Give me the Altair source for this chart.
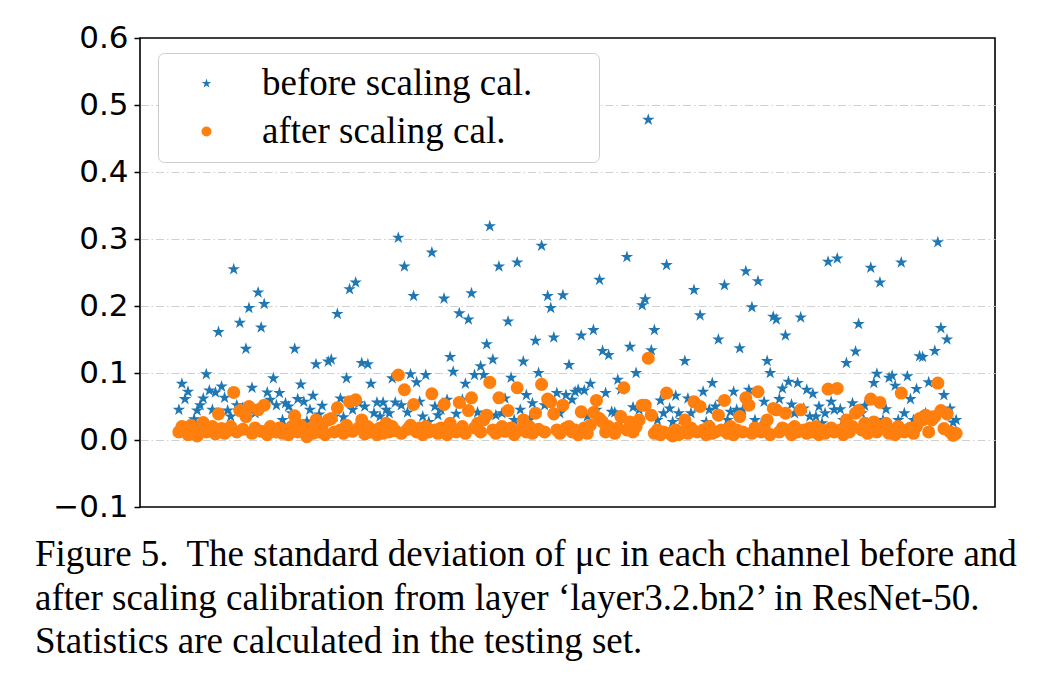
import altair as alt
import pandas as pd

# ---- data (one value per channel, 256 channels) ----
before = [
    0.045, 0.084, 0.061, 0.072, 0.025, 0.031, 0.044, 0.052, 0.062, 0.098, 0.074, 0.045, 0.071, 0.161, 0.080, 0.063,
    0.044, 0.035, 0.255, 0.052, 0.175, 0.048, 0.136, 0.197, 0.078, 0.040, 0.220, 0.168, 0.203, 0.071, 0.060, 0.092,
    0.052, 0.070, 0.030, 0.055, 0.050, 0.040, 0.136, 0.061, 0.083, 0.057, 0.028, 0.045, 0.066, 0.113, 0.038, 0.051,
    0.030, 0.117, 0.120, 0.035, 0.188, 0.062, 0.034, 0.092, 0.225, 0.045, 0.235, 0.055, 0.115, 0.050, 0.113, 0.084,
    0.040, 0.056, 0.035, 0.056, 0.045, 0.040, 0.092, 0.056, 0.302, 0.052, 0.259, 0.041, 0.098, 0.215, 0.086, 0.057,
    0.035, 0.097, 0.027, 0.280, 0.050, 0.037, 0.045, 0.211, 0.060, 0.124, 0.102, 0.039, 0.189, 0.060, 0.084, 0.180,
    0.219, 0.097, 0.041, 0.110, 0.097, 0.143, 0.319, 0.120, 0.037, 0.259, 0.040, 0.062, 0.177, 0.093, 0.030, 0.265,
    0.045, 0.117, 0.067, 0.030, 0.055, 0.148, 0.100, 0.290, 0.052, 0.215, 0.197, 0.153, 0.070, 0.040, 0.216, 0.067,
    0.112, 0.060, 0.072, 0.075, 0.156, 0.074, 0.035, 0.084, 0.164, 0.045, 0.239, 0.133, 0.070, 0.127, 0.042, 0.041,
    0.090, 0.075, 0.030, 0.273, 0.139, 0.049, 0.100, 0.045, 0.201, 0.210, 0.478, 0.134, 0.164, 0.030, 0.059, 0.040,
    0.261, 0.047, 0.027, 0.066, 0.040, 0.030, 0.118, 0.062, 0.040, 0.224, 0.050, 0.186, 0.072, 0.027, 0.045, 0.085,
    0.050, 0.150, 0.057, 0.231, 0.030, 0.042, 0.072, 0.045, 0.137, 0.045, 0.252, 0.075, 0.198, 0.030, 0.237, 0.022,
    0.057, 0.118, 0.100, 0.184, 0.180, 0.061, 0.077, 0.156, 0.087, 0.053, 0.040, 0.085, 0.183, 0.047, 0.075, 0.035,
    0.069, 0.035, 0.050, 0.025, 0.040, 0.266, 0.057, 0.045, 0.271, 0.046, 0.030, 0.115, 0.025, 0.055, 0.132, 0.173,
    0.040, 0.051, 0.025, 0.257, 0.085, 0.099, 0.235, 0.030, 0.046, 0.093, 0.096, 0.081, 0.030, 0.265, 0.040, 0.095,
    0.061, 0.030, 0.076, 0.125, 0.124, 0.040, 0.086, 0.035, 0.133, 0.295, 0.167, 0.067, 0.150, 0.047, 0.026, 0.030,
]

after = [
    0.012, 0.020, 0.015, 0.008, 0.022, 0.010, 0.006, 0.018, 0.026, 0.012, 0.015, 0.020, 0.009, 0.039, 0.017, 0.010,
    0.014, 0.020, 0.071, 0.012, 0.044, 0.016, 0.035, 0.050, 0.010, 0.018, 0.045, 0.013, 0.052, 0.008, 0.020, 0.015,
    0.012, 0.018, 0.010, 0.014, 0.008, 0.020, 0.036, 0.012, 0.022, 0.015, 0.005, 0.017, 0.010, 0.030, 0.012, 0.018,
    0.008, 0.030, 0.032, 0.012, 0.048, 0.015, 0.010, 0.022, 0.057, 0.013, 0.060, 0.018, 0.030, 0.009, 0.020, 0.012,
    0.015, 0.008, 0.018, 0.010, 0.025, 0.012, 0.020, 0.014, 0.097, 0.010, 0.075, 0.016, 0.022, 0.053, 0.012, 0.018,
    0.008, 0.020, 0.012, 0.069, 0.015, 0.010, 0.018, 0.053, 0.008, 0.025, 0.015, 0.012, 0.056, 0.020, 0.010, 0.044,
    0.063, 0.018, 0.025, 0.012, 0.030, 0.037, 0.086, 0.015, 0.010, 0.063, 0.020, 0.013, 0.044, 0.018, 0.008, 0.078,
    0.015, 0.030, 0.012, 0.020, 0.010, 0.040, 0.016, 0.083, 0.012, 0.061, 0.057, 0.039, 0.015, 0.010, 0.052, 0.018,
    0.020, 0.012, 0.015, 0.008, 0.042, 0.018, 0.010, 0.022, 0.041, 0.059, 0.032, 0.027, 0.012, 0.020, 0.015, 0.010,
    0.018, 0.035, 0.078, 0.015, 0.027, 0.012, 0.020, 0.030, 0.052, 0.052, 0.122, 0.037, 0.010, 0.015, 0.008, 0.012,
    0.070, 0.010, 0.006, 0.015, 0.008, 0.012, 0.030, 0.010, 0.018, 0.057, 0.012, 0.050, 0.015, 0.008, 0.020, 0.010,
    0.012, 0.037, 0.015, 0.059, 0.010, 0.020, 0.008, 0.015, 0.035, 0.012, 0.063, 0.052, 0.010, 0.018, 0.072, 0.012,
    0.020, 0.030, 0.008, 0.047, 0.045, 0.012, 0.018, 0.040, 0.015, 0.008, 0.020, 0.012, 0.045, 0.015, 0.010, 0.018,
    0.012, 0.020, 0.008, 0.015, 0.010, 0.076, 0.018, 0.012, 0.077, 0.015, 0.008, 0.030, 0.012, 0.020, 0.040, 0.044,
    0.015, 0.025, 0.010, 0.061, 0.027, 0.012, 0.056, 0.018, 0.025, 0.010, 0.015, 0.008, 0.020, 0.070, 0.012, 0.015,
    0.018, 0.010, 0.020, 0.032, 0.030, 0.037, 0.012, 0.030, 0.035, 0.085, 0.044, 0.017, 0.039, 0.012, 0.007, 0.010,
]

series_names = ["before scaling cal.", "after scaling cal."]
series_colors = ["#1f77b4", "#ff7f0e"]
y_ticks = [-0.1, 0.0, 0.1, 0.2, 0.3, 0.4, 0.5, 0.6]
caption = [
    "Figure 5.\u00a0 The standard deviation of μc in each channel before and",
    "after scaling calibration from layer ‘layer3.2.bn2’ in ResNet-50.",
    "Statistics are calculated in the testing set.",
]

STAR = ("M0,-1L0.2245,-0.309L0.951,-0.309L0.363,0.118L0.588,0.809L0,0.382"
        "L-0.588,0.809L-0.363,0.118L-0.951,-0.309L-0.2245,-0.309Z")

rows = []
for name, vals in zip(series_names, [before, after]):
    for i, v in enumerate(vals):
        rows.append({"channel": i, "std": v, "series": name})
df = pd.DataFrame(rows)

n = len(before)
margin = 0.05 * (n - 1)

legend = alt.Legend(
    title=None,
    orient="none",
    legendX=18,
    legendY=15,
    direction="vertical",
    fillColor="white",
    strokeColor="#cccccc",
    cornerRadius=6,
    padding=12,
    symbolSize=100,
    symbolOffset=18,
    symbolStrokeWidth=0,
    labelFont="Liberation Serif",
    labelFontSize=37,
    labelColor="black",
    labelOffset=37,
    rowPadding=10,
    labelLimit=700,
    labelExpr="datum.label + '\u2800\u2800'",
)

chart = (
    alt.Chart(df)
    .mark_point(filled=True, opacity=1, size=170, strokeWidth=0)
    .encode(
        x=alt.X(
            "channel:Q",
            scale=alt.Scale(domain=[-margin, n - 1 + margin], nice=False, zero=False),
            axis=None,
        ),
        y=alt.Y(
            "std:Q",
            scale=alt.Scale(domain=[-0.1, 0.6], nice=False, zero=False),
            axis=alt.Axis(
                values=y_ticks,
                format=".1f",
                labelExpr="replace(datum.label, '-', '\u2212')",
                title=None,
                grid=True,
                gridDash=[8, 3, 1.5, 3],
                gridColor="#d0d0d0",
                gridWidth=1,
                gridOpacity={
                    "condition": {"test": "datum.value < -0.05 || datum.value > 0.55", "value": 0},
                    "value": 1,
                },
                domain=False,
                ticks=True,
                tickSize=6,
                tickColor="black",
                tickWidth=1.5,
                labelFont="DejaVu Sans",
                labelFontSize=31,
                labelColor="black",
                labelPadding=6,
                labelFlush=False,
                labelOverlap=False,
            ),
        ),
        color=alt.Color(
            "series:N",
            scale=alt.Scale(domain=series_names, range=series_colors),
            legend=legend,
        ),
        shape=alt.Shape(
            "series:N",
            scale=alt.Scale(domain=series_names, range=[STAR, "circle"]),
            legend=legend,
        ),
    )
    .properties(
        width=855,
        height=469,
        autosize=alt.AutoSizeParams(type="none"),
        padding={"left": 132, "top": 30, "right": 45, "bottom": 168},
        background="white",
        title=alt.TitleParams(
            text=caption,
            orient="bottom",
            anchor="start",
            frame="group",
            dx=-105,
            offset=15,
            baseline="top",
            font="Liberation Serif",
            fontSize=37,
            fontWeight="normal",
            color="black",
            lineHeight=43.5,
        ),
    )
    .configure_view(stroke="black", strokeWidth=1.6)
)

chart.save("out.html", embed_options={"renderer": "svg", "actions": False})
